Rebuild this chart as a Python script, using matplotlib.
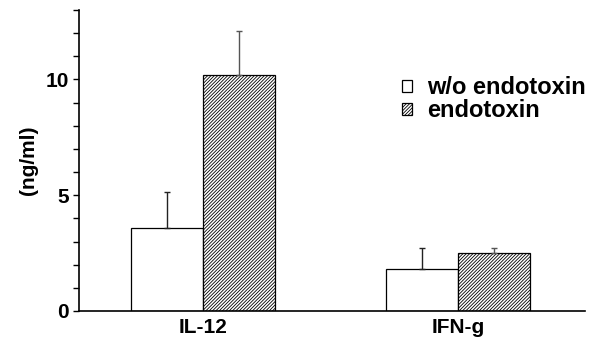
import numpy as np
import matplotlib
matplotlib.use("Agg")
import matplotlib.pyplot as plt
from matplotlib.ticker import MultipleLocator

plt.rcParams["font.family"] = ["Liberation Sans", "DejaVu Sans"]
plt.rcParams["font.weight"] = "bold"
plt.rcParams["hatch.linewidth"] = 0.6

# data
categories = ["IL-12", "IFN-g"]
series_names = ["w/o endotoxin", "endotoxin"]
without_vals = [3.58, 1.80]
without_err = [1.54, 0.91]
with_vals = [10.19, 2.50]
with_err = [1.89, 0.21]

x = np.arange(len(categories))
w = 0.283

fig = plt.figure(figsize=(5.96, 3.41), dpi=100)
ax = fig.add_axes([0.1326, 0.088, 0.849, 0.8827])

ax.bar(x - w/2, without_vals, w, color="white", edgecolor="black", linewidth=0.9,
       label=series_names[0])
ax.bar(x + w/2, with_vals, w, color="white", edgecolor="black", linewidth=0.9,
       hatch="//////////", label=series_names[1])

# upward-only error bars
ax.errorbar(x - w/2, without_vals, yerr=[np.zeros(2), without_err], fmt="none",
            ecolor="#222222", elinewidth=1.0, capsize=2, capthick=1.0)
ax.errorbar(x + w/2, with_vals, yerr=[np.zeros(2), with_err], fmt="none",
            ecolor="#555555", elinewidth=1.0, capsize=2, capthick=1.0)

ax.set_xlim(-0.489, 1.50)
ax.set_ylim(0, 13)
ax.set_xticks(x)
ax.set_xticklabels(categories, fontsize=15, fontweight="bold")
ax.tick_params(axis="x", length=0, pad=5)
ax.yaxis.set_major_locator(MultipleLocator(5))
ax.yaxis.set_minor_locator(MultipleLocator(1))
ax.tick_params(axis="y", which="both", direction="out", length=4, width=1, labelsize=15)
for lbl in ax.get_yticklabels():
    lbl.set_fontweight("bold")
ax.set_ylabel("(ng/ml)", fontsize=15, fontweight="bold", labelpad=5)

for s in ["top", "right"]:
    ax.spines[s].set_visible(False)
ax.spines["left"].set_linewidth(1.2)
ax.spines["bottom"].set_linewidth(1.2)

leg = ax.legend(loc="upper left", bbox_to_anchor=(0.596, 0.85), frameon=False,
                handlelength=0.42, handleheight=0.42, handletextpad=0.65,
                labelspacing=0.0, prop={"size": 17, "weight": "bold"})

fig.savefig("out.png", dpi=100)
